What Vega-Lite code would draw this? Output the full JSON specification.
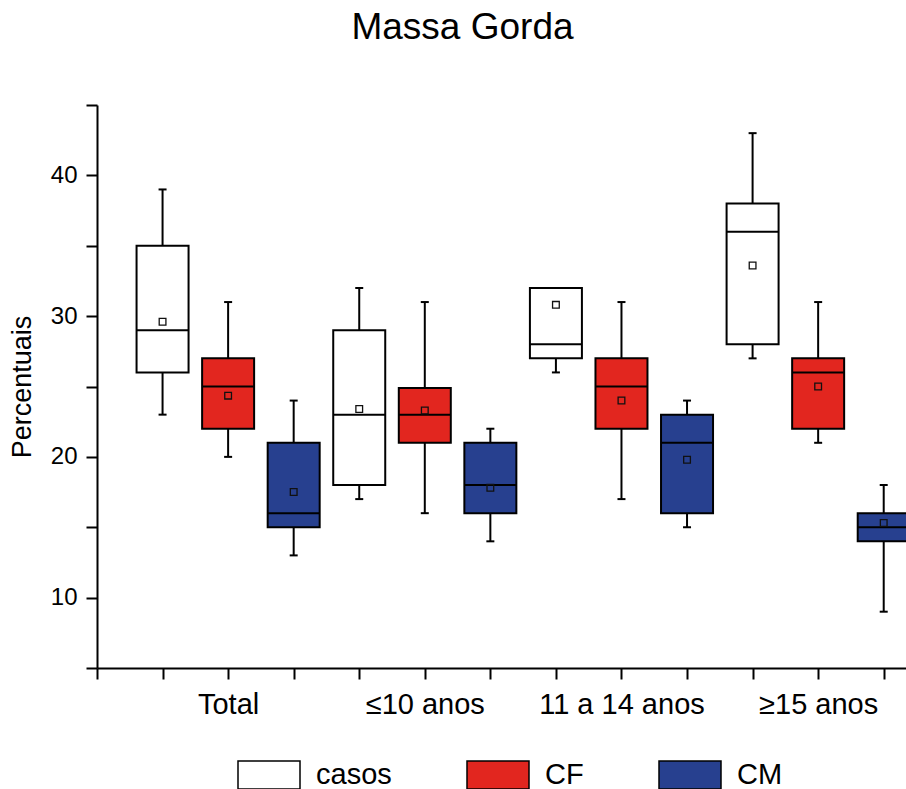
{
  "$schema": "https://vega.github.io/schema/vega-lite/v6.json",
  "width": 809,
  "height": 563,
  "autosize": {"type": "none"},
  "padding": {"left": 97, "top": 105, "right": 0, "bottom": 121},
  "background": "white",
  "config": {
    "font": "Liberation Sans",
    "view": {"stroke": null}
  },
  "title": {
    "text": "Massa Gorda",
    "fontSize": 37,
    "fontWeight": "normal",
    "color": "black",
    "anchor": "middle",
    "dx": -39,
    "offset": 46
  },
  "data": {
    "values": [
      {"pos": 1, "grupo": "casos", "lo": 23, "q1": 26, "med": 29, "q3": 35, "hi": 39, "mean": 29.6},
      {"pos": 2, "grupo": "CF", "lo": 20, "q1": 22, "med": 25, "q3": 27, "hi": 31, "mean": 24.35},
      {"pos": 3, "grupo": "CM", "lo": 13, "q1": 15, "med": 16, "q3": 21, "hi": 24, "mean": 17.5},
      {"pos": 4, "grupo": "casos", "lo": 17, "q1": 18, "med": 23, "q3": 29, "hi": 32, "mean": 23.4},
      {"pos": 5, "grupo": "CF", "lo": 16, "q1": 21, "med": 23, "q3": 24.9, "hi": 31, "mean": 23.3},
      {"pos": 6, "grupo": "CM", "lo": 14, "q1": 16, "med": 18, "q3": 21, "hi": 22, "mean": 17.8},
      {"pos": 7, "grupo": "casos", "lo": 26, "q1": 27, "med": 28, "q3": 32, "hi": 32, "mean": 30.8},
      {"pos": 8, "grupo": "CF", "lo": 17, "q1": 22, "med": 25, "q3": 27, "hi": 31, "mean": 24.0},
      {"pos": 9, "grupo": "CM", "lo": 15, "q1": 16, "med": 21, "q3": 23, "hi": 24, "mean": 19.8},
      {"pos": 10, "grupo": "casos", "lo": 27, "q1": 28, "med": 36, "q3": 38, "hi": 43, "mean": 33.6},
      {"pos": 11, "grupo": "CF", "lo": 21, "q1": 22, "med": 26, "q3": 27, "hi": 31, "mean": 25.0},
      {"pos": 12, "grupo": "CM", "lo": 9, "q1": 14, "med": 15, "q3": 16, "hi": 18, "mean": 15.3}
    ]
  },
  "encoding": {
    "x": {
      "field": "pos",
      "type": "quantitative",
      "scale": {"domain": [0, 12.34], "nice": false, "zero": false, "padding": 0},
      "axis": {
        "title": null,
        "values": [0, 1, 2, 3, 4, 5, 6, 7, 8, 9, 10, 11, 12],
        "labelExpr": "datum.value == 2 ? 'Total' : datum.value == 5 ? '≤10 anos' : datum.value == 8 ? '11 a 14 anos' : datum.value == 11 ? '≥15 anos' : ''",
        "labelFontSize": 29,
        "labelColor": "black",
        "labelPadding": 11,
        "labelFlush": false,
        "labelOverlap": false,
        "labelBound": false,
        "tickSize": 11,
        "tickWidth": 2,
        "tickColor": "black",
        "domainColor": "black",
        "domainWidth": 2,
        "grid": false
      }
    },
    "y": {
      "type": "quantitative",
      "scale": {"domain": [5, 45], "nice": false, "zero": false},
      "axis": {
        "title": "Percentuais",
        "titleFontSize": 27,
        "titleFontWeight": "normal",
        "titleColor": "black",
        "titlePadding": 14,
        "values": [5, 10, 15, 20, 25, 30, 35, 40, 45],
        "labelExpr": "(datum.value >= 10 && datum.value <= 40 && datum.value % 10 == 0) ? datum.label : ''",
        "labelFontSize": 24,
        "labelColor": "black",
        "labelPadding": 9,
        "labelFlush": false,
        "labelOverlap": false,
        "tickSize": 11,
        "tickWidth": 2,
        "tickColor": "black",
        "domainColor": "black",
        "domainWidth": 2,
        "grid": false
      }
    }
  },
  "layer": [
    {
      "mark": {"type": "rule", "color": "black", "strokeWidth": 2, "clip": true},
      "encoding": {
        "y": {"field": "lo", "type": "quantitative"},
        "y2": {"field": "hi"}
      }
    },
    {
      "mark": {"type": "tick", "orient": "horizontal", "size": 8, "thickness": 2, "color": "black", "opacity": 1, "clip": true},
      "encoding": {"y": {"field": "lo", "type": "quantitative"}}
    },
    {
      "mark": {"type": "tick", "orient": "horizontal", "size": 8, "thickness": 2, "color": "black", "opacity": 1, "clip": true},
      "encoding": {"y": {"field": "hi", "type": "quantitative"}}
    },
    {
      "mark": {"type": "bar", "size": 52, "stroke": "black", "strokeWidth": 2, "opacity": 1, "clip": true},
      "encoding": {
        "y": {"field": "q1", "type": "quantitative"},
        "y2": {"field": "q3"},
        "fill": {
          "field": "grupo",
          "type": "nominal",
          "scale": {"domain": ["casos", "CF", "CM"], "range": ["#ffffff", "#e2261f", "#27408f"]},
          "legend": {
            "title": null,
            "orient": "none",
            "direction": "horizontal",
            "legendX": 140,
            "legendY": 638,
            "padding": 0,
            "symbolType": "M-1,-0.45H1V0.45H-1Z",
            "symbolSize": 3844,
            "symbolStrokeColor": "black",
            "symbolStrokeWidth": 1.5,
            "symbolOpacity": 1,
            "labelFontSize": 29,
            "labelColor": "black",
            "labelOffset": 15,
            "columnPadding": 72,
            "labelLimit": 300
          }
        }
      }
    },
    {
      "mark": {"type": "tick", "orient": "horizontal", "size": 52, "thickness": 2, "color": "black", "opacity": 1, "clip": true},
      "encoding": {"y": {"field": "med", "type": "quantitative"}}
    },
    {
      "mark": {"type": "point", "shape": "square", "filled": false, "size": 45, "stroke": "#111111", "strokeWidth": 1.3, "opacity": 1, "clip": true},
      "encoding": {"y": {"field": "mean", "type": "quantitative"}}
    }
  ]
}
